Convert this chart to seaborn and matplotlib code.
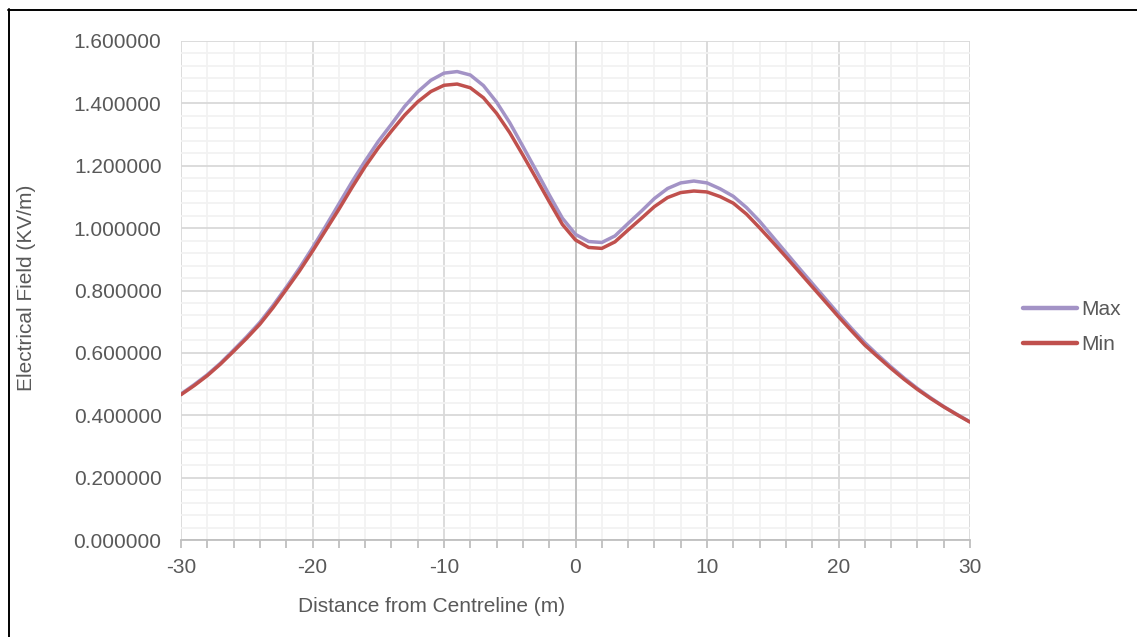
import numpy as np
import pandas as pd
import matplotlib
matplotlib.use("Agg")
import matplotlib.pyplot as plt
from matplotlib.lines import Line2D
from matplotlib.ticker import MultipleLocator, FormatStrFormatter
import seaborn as sns

# Distance from the centreline (m)
distance = list(range(-30, 31))

# Electric field, maximum and minimum cases (kV/m)
field_max = [
    0.468, 0.498, 0.530, 0.567, 0.609, 0.652, 0.698, 0.752, 0.810, 0.871,
    0.937, 1.006, 1.077, 1.148, 1.215, 1.278, 1.333, 1.390, 1.437, 1.474,
    1.497, 1.502, 1.491, 1.457, 1.404, 1.338, 1.262, 1.185, 1.107, 1.032,
    0.980, 0.957, 0.954, 0.975, 1.015, 1.054, 1.095, 1.127, 1.145, 1.151,
    1.145, 1.126, 1.102, 1.066, 1.022, 0.972, 0.922, 0.872, 0.823, 0.774,
    0.725, 0.678, 0.633, 0.593, 0.555, 0.519, 0.486, 0.456, 0.428, 0.403,
    0.379,
]
field_min = [
    0.466, 0.495, 0.527, 0.564, 0.605, 0.647, 0.692, 0.745, 0.803, 0.862,
    0.926, 0.993, 1.060, 1.130, 1.197, 1.257, 1.311, 1.362, 1.405, 1.438,
    1.458, 1.462, 1.450, 1.418, 1.368, 1.306, 1.234, 1.160, 1.085, 1.012,
    0.962, 0.938, 0.935, 0.956, 0.994, 1.031, 1.069, 1.098, 1.114, 1.119,
    1.116, 1.101, 1.080, 1.045, 1.001, 0.955, 0.908, 0.860, 0.812, 0.764,
    0.716, 0.670, 0.625, 0.587, 0.550, 0.515, 0.483, 0.454, 0.427, 0.402,
    0.378,
]
series_names = ["Max", "Min"]
series_colors = {"Max": "#A393C6", "Min": "#C0504D"}

df = pd.concat([
    pd.DataFrame({"Distance": distance, "Field": field_max, "Series": "Max"}),
    pd.DataFrame({"Distance": distance, "Field": field_min, "Series": "Min"}),
], ignore_index=True)

sns.set_theme(style="white")
plt.rcParams["font.family"] = ["Liberation Sans", "DejaVu Sans"]
plt.rcParams["axes.unicode_minus"] = False

text_color = "#595959"
fig = plt.figure(figsize=(11.37, 6.37), dpi=100)
ax = fig.add_axes([181 / 1137, 1 - 540 / 637, (970 - 181) / 1137, (540 - 41) / 637])

sns.lineplot(data=df, x="Distance", y="Field", hue="Series", hue_order=series_names,
             palette=series_colors, linewidth=2.5, ax=ax, legend=False, sort=False)

ax.set_xlim(-30, 30)
ax.set_ylim(0, 1.6)
ax.xaxis.set_major_locator(MultipleLocator(10))
ax.xaxis.set_minor_locator(MultipleLocator(2))
ax.yaxis.set_major_locator(MultipleLocator(0.2))
ax.yaxis.set_minor_locator(MultipleLocator(0.04))
ax.yaxis.set_major_formatter(FormatStrFormatter("%.6f"))

ax.set_axisbelow(True)
ax.grid(which="minor", color="#F2F2F2", linewidth=1.3)
ax.grid(which="major", color="#D9D9D9", linewidth=1.3)
# vertical axis line crossing at zero
ax.axvline(0, color="#BFBFBF", linewidth=1.3, zorder=1.5)

for side in ["top", "right", "left"]:
    ax.spines[side].set_visible(False)
ax.spines["bottom"].set_color("#BFBFBF")
ax.spines["bottom"].set_linewidth(1.3)

ax.tick_params(axis="x", which="both", direction="out", length=6, width=1.3,
               color="#BFBFBF", labelsize=15, labelcolor=text_color, pad=7, bottom=True)
ax.tick_params(axis="y", which="both", length=0, labelsize=15,
               labelcolor=text_color, pad=14)

ax.set_xlabel("")
ax.set_ylabel("")
fig.text(432 / 1137, 1 - 607 / 637, "Distance from Centreline (m)", ha="center",
         va="center", fontsize=15, color=text_color)
fig.text(27 / 1137, 1 - 288 / 637, "Electrical Field (KV/m)", ha="center",
         va="center", rotation=90, fontsize=15, color=text_color)

handles = [Line2D([0], [0], color=series_colors[n], linewidth=3.2) for n in series_names]
fig.legend(handles, series_names, loc="center left",
           bbox_to_anchor=(1023 / 1137, 1 - 327 / 637), frameon=False,
           fontsize=15, labelcolor=text_color, handlelength=2.6,
           handletextpad=0.2, labelspacing=0.75, borderpad=0, borderaxespad=0)

# outer chart frame (top and left edges)
fig.add_artist(Line2D([8 / 1137, 1.01], [1 - 9.5 / 637, 1 - 9.5 / 637],
                      color="black", linewidth=1.4, transform=fig.transFigure))
fig.add_artist(Line2D([8.5 / 1137, 8.5 / 1137], [1 - 9 / 637, -0.01],
                      color="black", linewidth=1.4, transform=fig.transFigure))

fig.savefig("out.png", dpi=100)
